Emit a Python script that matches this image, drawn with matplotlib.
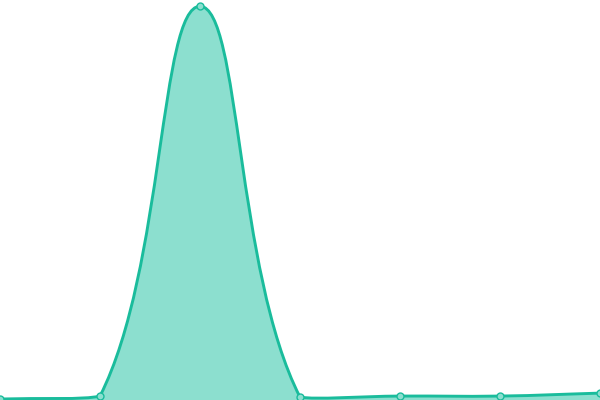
import numpy as np
import matplotlib
matplotlib.use('Agg')
import matplotlib.pyplot as plt
from matplotlib.path import Path
from matplotlib.patches import PathPatch

# valores
etiquetas = ['0', '1', '2', '3', '4', '5', '6']
valores = [0.25, 1.0, 100.0, 0.75, 1.0, 1.0, 1.75]

color_linea = '#1abc9c'
color_relleno = '#8cdfcf'
tension = 0.4
ytop = 101.6

fig = plt.figure(figsize=(6, 4), dpi=100)
ax = fig.add_axes([0, 0, 1, 1])
ax.set_xlim(0, len(etiquetas) - 1)
ax.set_ylim(0, ytop)
ax.axis('off')

x = np.arange(len(etiquetas))
pts = ax.transData.transform(np.column_stack([x, valores]))
x0, y0 = ax.transData.transform((0, 0))
x1, y1 = ax.transData.transform((len(etiquetas) - 1, ytop))

# puntos de control tipo spline con tension (en pixeles)
ctrl_prev = []
ctrl_next = []
n = len(pts)
for i in range(n):
    cur = pts[i]
    prev = pts[i - 1] if i > 0 else cur
    nxt = pts[i + 1] if i < n - 1 else cur
    d01 = np.hypot(*(cur - prev))
    d12 = np.hypot(*(nxt - cur))
    tot = d01 + d12
    s01 = d01 / tot if tot else 0
    s12 = d12 / tot if tot else 0
    fa = tension * s01
    fb = tension * s12
    cp = cur - fa * (nxt - prev)
    cn = cur + fb * (nxt - prev)
    cp = np.array([np.clip(cp[0], x0, x1), np.clip(cp[1], y0, y1)])
    cn = np.array([np.clip(cn[0], x0, x1), np.clip(cn[1], y0, y1)])
    ctrl_prev.append(cp)
    ctrl_next.append(cn)

verts = [pts[0]]
codes = [Path.MOVETO]
for i in range(n - 1):
    verts += [ctrl_next[i], ctrl_prev[i + 1], pts[i + 1]]
    codes += [Path.CURVE4] * 3

inv = ax.transData.inverted()
verts_d = inv.transform(np.array(verts))

relleno = list(verts_d) + [(x[-1], 0), (x[0], 0), (x[0], 0)]
codes_r = codes + [Path.LINETO, Path.LINETO, Path.CLOSEPOLY]
ax.add_patch(PathPatch(Path(relleno, codes_r), facecolor=color_relleno,
                       edgecolor='none'))
ax.add_patch(PathPatch(Path(verts_d, codes), facecolor='none',
                       edgecolor=color_linea, linewidth=2.1,
                       joinstyle='round', capstyle='round'))
ax.plot(x, valores, 'o', markersize=5, markerfacecolor=color_relleno,
        markeredgecolor=color_linea, markeredgewidth=1, clip_on=False)

fig.savefig('out.png', dpi=100)
